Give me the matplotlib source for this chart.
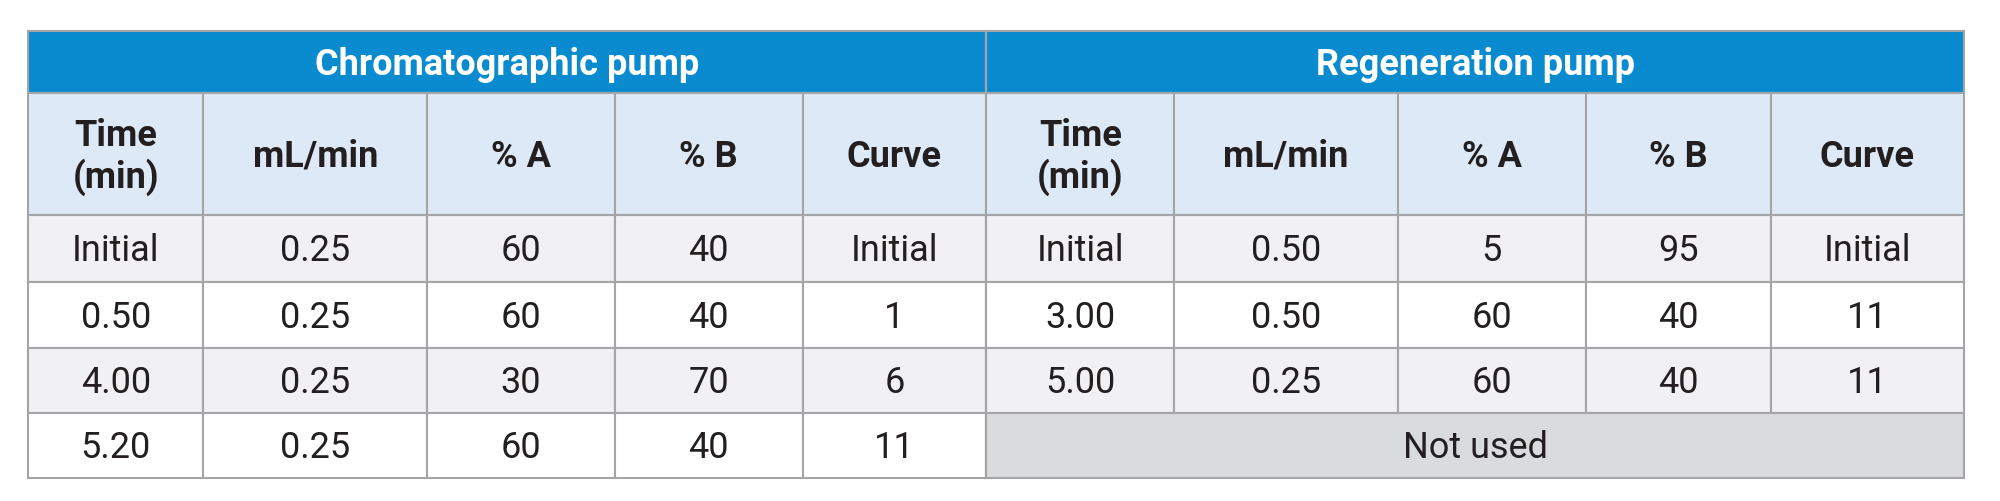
import matplotlib
matplotlib.use("Agg")
import matplotlib.pyplot as plt
from matplotlib.patches import Rectangle

groups = ["Chromatographic pump", "Regeneration pump"]
col_headers = ["Time\n(min)", "mL/min", "% A", "% B", "Curve"]
chrom_rows = [["Initial", "0.25", "60", "40", "Initial"],
              ["0.50", "0.25", "60", "40", "1"],
              ["4.00", "0.25", "30", "70", "6"],
              ["5.20", "0.25", "60", "40", "11"]]
regen_rows = [["Initial", "0.50", "5", "95", "Initial"],
              ["3.00", "0.50", "60", "40", "11"],
              ["5.00", "0.25", "60", "40", "11"]]
not_used = "Not used"

W, H = 1545, 388
xs = [22, 157, 330, 475, 620, 762, 907, 1080, 1225, 1368, 1517]
ys = [25, 73, 167, 219, 270, 320, 370]

fig = plt.figure(figsize=(20, 5.02), dpi=100)
ax = fig.add_axes([0, 0, 1, 1])
ax.set_xlim(0, W); ax.set_ylim(H, 0); ax.axis("off")
plt.rcParams['font.family'] = ['Roboto', 'DejaVu Sans']
fs = 26
blue = "#0a8bd0"; light = "#dde9f6"; grey = "#f1f1f3"; nu = "#dadbdd"; line = "#a5a5a8"

def cell(x0, x1, y0, y1, fc, txt, color="#231f20", bold=False):
    ax.add_patch(Rectangle((x0, y0), x1 - x0, y1 - y0, facecolor=fc, edgecolor=line, lw=1.5))
    ax.text((x0 + x1) / 2, (y0 + y1) / 2 + 1, txt, ha="center", va="center", fontsize=fs,
            color=color, fontweight="bold" if bold else "normal", linespacing=1.15)

cell(xs[0], xs[5], ys[0], ys[1], blue, groups[0], "white", True)
cell(xs[5], xs[10], ys[0], ys[1], blue, groups[1], "white", True)
for g in range(2):
    for j, h in enumerate(col_headers):
        cell(xs[g*5+j], xs[g*5+j+1], ys[1], ys[2], light, h, bold=True)
for i in range(4):
    fc = grey if i % 2 == 0 else "white"
    for j, v in enumerate(chrom_rows[i]):
        cell(xs[j], xs[j+1], ys[2+i], ys[3+i], fc, v)
    if i < len(regen_rows):
        for j, v in enumerate(regen_rows[i]):
            cell(xs[5+j], xs[6+j], ys[2+i], ys[3+i], fc, v)
    else:
        cell(xs[5], xs[10], ys[2+i], ys[3+i], nu, not_used)
ax.plot([xs[5], xs[5]], [ys[0], ys[-1]], color=line, lw=1.5)
fig.savefig("out.png", dpi=100, facecolor="white")
